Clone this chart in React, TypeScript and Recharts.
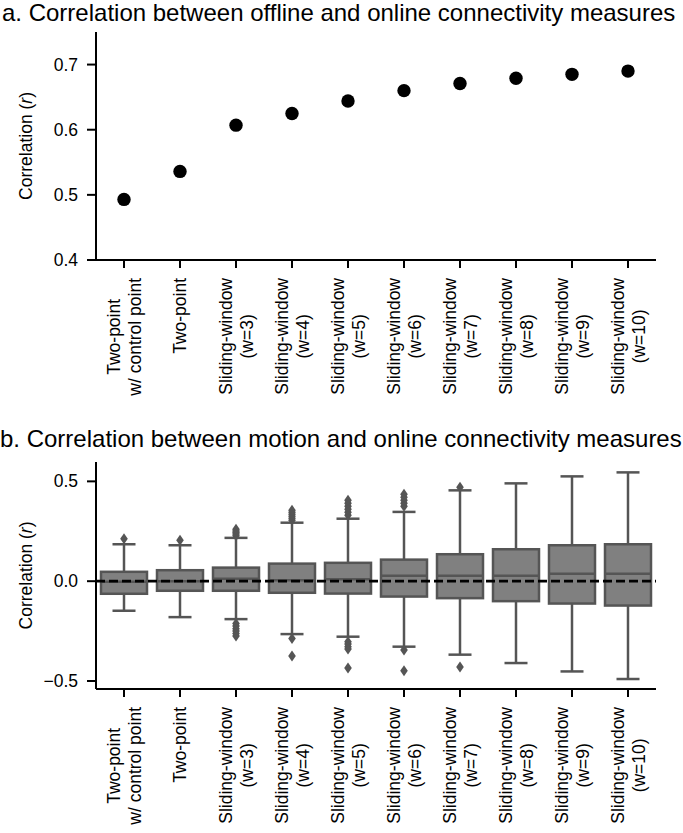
import React from 'react';
import { ComposedChart, Line, Bar, XAxis, YAxis, ReferenceLine } from 'recharts';

// ---------------- data ----------------
const categories = [
  'Two-point\nw/ control point',
  'Two-point',
  'Sliding-window\n(w=3)',
  'Sliding-window\n(w=4)',
  'Sliding-window\n(w=5)',
  'Sliding-window\n(w=6)',
  'Sliding-window\n(w=7)',
  'Sliding-window\n(w=8)',
  'Sliding-window\n(w=9)',
  'Sliding-window\n(w=10)',
];

const offlineOnlineCorr = [0.493, 0.536, 0.607, 0.625, 0.644, 0.66, 0.671, 0.679, 0.685, 0.69];

const panelATicks = [0.4, 0.5, 0.6, 0.7];
const panelBTicks = [-0.5, 0, 0.5];

const boxQ1 = [-0.063, -0.048, -0.048, -0.058, -0.062, -0.077, -0.085, -0.1, -0.112, -0.122];
const boxMedian = [-0.003, 0.0, 0.012, 0.005, 0.01, 0.027, 0.027, 0.027, 0.037, 0.037];
const boxQ3 = [0.047, 0.055, 0.068, 0.088, 0.092, 0.108, 0.135, 0.16, 0.18, 0.185];
const whiskerLow = [-0.148, -0.18, -0.19, -0.265, -0.278, -0.328, -0.368, -0.41, -0.452, -0.49];
const whiskerHigh = [0.185, 0.18, 0.217, 0.293, 0.313, 0.347, 0.455, 0.49, 0.525, 0.545];
const outliers = [
  [0.213],
  [0.205],
  [0.228, 0.236, 0.244, 0.252, 0.26, -0.212, -0.225, -0.238, -0.25, -0.262, -0.275],
  [0.305, 0.315, 0.325, 0.335, 0.345, 0.355, -0.287, -0.375],
  [0.33, 0.345, 0.36, 0.375, 0.39, 0.405, -0.303, -0.315, -0.328, -0.34, -0.435],
  [0.375, 0.39, 0.405, 0.42, 0.435, -0.345, -0.448],
  [0.47, -0.43],
  [],
  [],
  [],
];

// ---------------- style ----------------
const FONT = '"Liberation Sans", Arial, Helvetica, sans-serif';
const TICK_FS = 17.5;
const TITLE_FS = 24;
const LINE_H = 21;
const BOX_FILL = '#808080';
const BOX_LINE = '#555555';

const dataA = categories.map((name, i) => ({ name, value: offlineOnlineCorr[i] }));
const dataB = categories.map((name, i) => ({
  name,
  box: [boxQ1[i], boxQ3[i]],
  median: boxMedian[i],
  lo: whiskerLow[i],
  hi: whiskerHigh[i],
  out: outliers[i],
}));

let measureCtx: CanvasRenderingContext2D | null = null;
function textWidth(t: string): number {
  try {
    if (!measureCtx) measureCtx = document.createElement('canvas').getContext('2d');
    if (measureCtx) {
      measureCtx.font = `${TICK_FS}px ${FONT}`;
      return measureCtx.measureText(t).width;
    }
  } catch (e) {}
  return t.length * TICK_FS * 0.5;
}

const XTick = (props: any) => {
  const { x, y, payload } = props;
  const lines: string[] = String(payload.value).split('\n');
  const maxW = Math.max(...lines.map(textWidth));
  const top = y + 8;
  const cy = top + maxW / 2;
  const n = lines.length;
  return (
    <g>
      {lines.map((l, i) => (
        <text
          key={i}
          transform={`translate(${x + (i - (n - 1) / 2) * LINE_H}, ${cy}) rotate(-90)`}
          textAnchor="middle"
          dy="0.35em"
          fontSize={TICK_FS}
          fontFamily={FONT}
          fill="#000"
        >
          {l}
        </text>
      ))}
    </g>
  );
};

const fmt = (v: number) => {
  const s = Math.abs(v).toFixed(1);
  return v < -1e-9 ? '\u2212' + s : s;
};

const YTick = (props: any) => {
  const { x, y, payload } = props;
  return (
    <text x={x} y={y} dy="0.35em" textAnchor="end" fontSize={TICK_FS} fontFamily={FONT} fill="#000">
      {fmt(payload.value)}
    </text>
  );
};

const YLabel = (props: any) => {
  const vb = props.viewBox || { x: 0, y: 0, width: 0, height: 0 };
  const cy = vb.y + vb.height / 2;
  return (
    <text
      transform={`translate(26, ${cy}) rotate(-90)`}
      textAnchor="middle"
      dy="0.35em"
      fontSize={TICK_FS}
      fontFamily={FONT}
      fill="#000"
    >
      Correlation (<tspan fontStyle="italic">r</tspan>)
    </text>
  );
};

const Dot = (props: any) => {
  const { cx, cy } = props;
  if (cx == null || cy == null) return null;
  return <circle cx={cx} cy={cy} r={6.7} fill="#000" stroke="none" />;
};

const BoxShape = (props: any) => {
  const { x, y, width, height, payload } = props;
  const [q1, q3] = payload.box;
  const ppu = height / (q3 - q1);
  const yOf = (v: number) => y + (q3 - v) * ppu;
  const cx = x + width / 2;
  const capHalf = width / 4;
  const sw = 2.5;
  return (
    <g>
      <line x1={cx} x2={cx} y1={yOf(q3)} y2={yOf(payload.hi)} stroke={BOX_LINE} strokeWidth={sw} />
      <line x1={cx} x2={cx} y1={yOf(q1)} y2={yOf(payload.lo)} stroke={BOX_LINE} strokeWidth={sw} />
      <line x1={cx - capHalf} x2={cx + capHalf} y1={yOf(payload.hi)} y2={yOf(payload.hi)} stroke={BOX_LINE} strokeWidth={sw} />
      <line x1={cx - capHalf} x2={cx + capHalf} y1={yOf(payload.lo)} y2={yOf(payload.lo)} stroke={BOX_LINE} strokeWidth={sw} />
      <rect x={x} y={y} width={width} height={height} fill={BOX_FILL} stroke={BOX_LINE} strokeWidth={sw} />
      <line x1={x} x2={x + width} y1={yOf(payload.median)} y2={yOf(payload.median)} stroke={BOX_LINE} strokeWidth={sw} />
      {payload.out.map((v: number, i: number) => {
        const oy = yOf(v);
        return (
          <path
            key={i}
            d={`M${cx},${oy - 5.5} L${cx + 3.8},${oy} L${cx},${oy + 5.5} L${cx - 3.8},${oy} Z`}
            fill={BOX_LINE}
          />
        );
      })}
    </g>
  );
};

const axisLine = { stroke: '#000', strokeWidth: 2 };
const tickLine = { stroke: '#000', strokeWidth: 2 };

export default function App() {
  return (
    <div style={{ position: 'absolute', left: 0, top: 0, width: 683, height: 833, background: '#fff' }}>
      <svg width={683} height={833} style={{ position: 'absolute', left: 0, top: 0 }}>
        <text x={2} y={21} fontSize={TITLE_FS} fontFamily={FONT} fill="#000">
          a. Correlation between offline and online connectivity measures
        </text>
        <text x={0} y={447} fontSize={TITLE_FS} fontFamily={FONT} fill="#000">
          b. Correlation between motion and online connectivity measures
        </text>
      </svg>
      <div style={{ position: 'absolute', left: 0, top: 0 }}>
        <ComposedChart width={683} height={410} data={dataA} margin={{ top: 32, right: 27, bottom: 0, left: 0 }}>
          <XAxis
            dataKey="name"
            type="category"
            scale="band"
            interval={0}
            height={150}
            tick={<XTick />}
            tickSize={8}
            axisLine={axisLine}
            tickLine={tickLine}
          />
          <YAxis
            type="number"
            domain={[0.4, 0.75]}
            ticks={panelATicks}
            width={96}
            tickSize={9}
            tickMargin={9}
            tick={<YTick />}
            axisLine={axisLine}
            tickLine={tickLine}
            label={{ content: <YLabel /> }}
          />
          <Line
            dataKey="value"
            stroke="none"
            dot={<Dot />}
            activeDot={false}
            isAnimationActive={false}
          />
        </ComposedChart>
      </div>
      <div style={{ position: 'absolute', left: 0, top: 410 }}>
        <ComposedChart width={683} height={423} data={dataB} margin={{ top: 52, right: 27, bottom: 0, left: 0 }}>
          <XAxis
            dataKey="name"
            type="category"
            interval={0}
            height={144}
            tick={<XTick />}
            tickSize={8}
            axisLine={axisLine}
            tickLine={tickLine}
          />
          <YAxis
            type="number"
            domain={[-0.54, 0.597]}
            ticks={panelBTicks}
            width={96}
            tickSize={9}
            tickMargin={9}
            tick={<YTick />}
            axisLine={axisLine}
            tickLine={tickLine}
            label={{ content: <YLabel /> }}
          />
          <Bar dataKey="box" barSize={46} shape={BoxShape} isAnimationActive={false} />
          <ReferenceLine y={0} stroke="#000" strokeWidth={2.8} strokeDasharray="9 4" />
        </ComposedChart>
      </div>
    </div>
  );
}
